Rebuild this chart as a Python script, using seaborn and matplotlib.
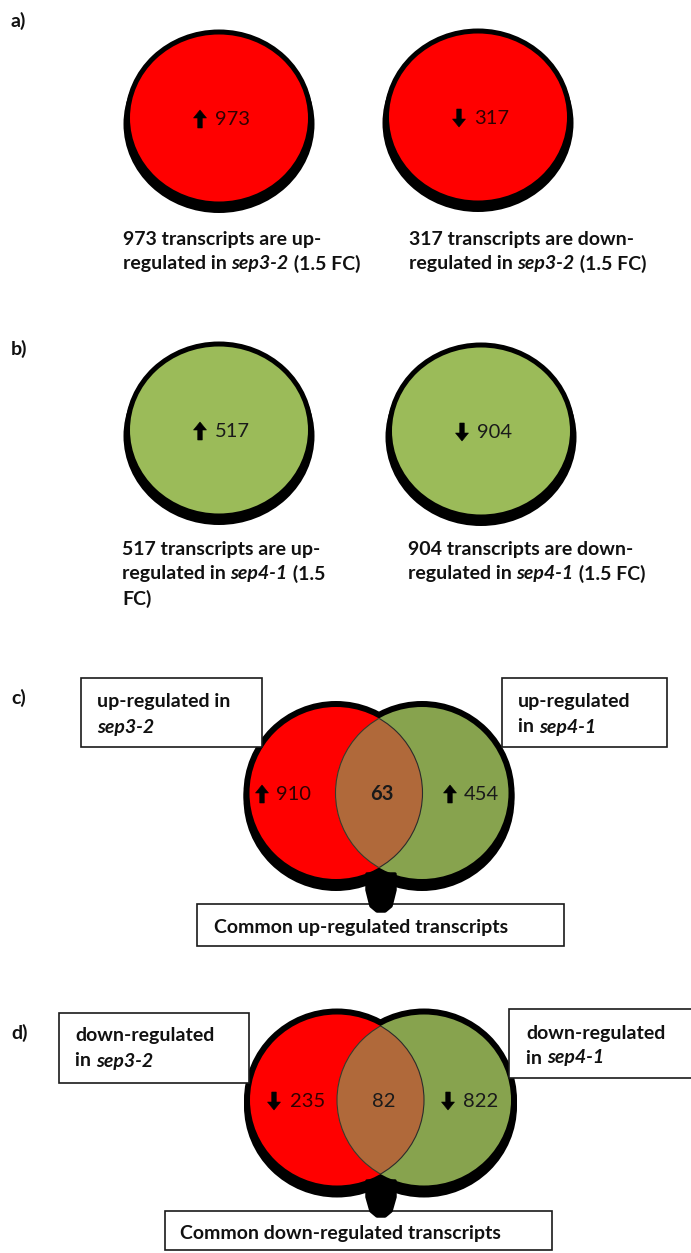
import matplotlib
matplotlib.use('Agg')
import matplotlib.pyplot as plt
import seaborn as sns
from matplotlib.patches import Ellipse, Rectangle, Polygon, FancyArrow

sns.set_theme(style='white')
plt.rcParams['font.family'] = ['Lato', 'DejaVu Sans']

# ---- data ----
panel_labels = ['a)', 'b)', 'c)', 'd)']
single_counts = [973, 317, 517, 904]
single_dirs = ['up', 'down', 'up', 'down']
venn_up = [910, 63, 454]
venn_down = [235, 82, 822]

captions = [
    [[('973 transcripts are up-', 'b')],
     [('regulated in ', 'b'), ('sep3-2', 'bi'), (' (1.5 FC)', 'b')]],
    [[('317 transcripts are down-', 'b')],
     [('regulated in ', 'b'), ('sep3-2', 'bi'), (' (1.5 FC)', 'b')]],
    [[('517 transcripts are up-', 'b')],
     [('regulated in ', 'b'), ('sep4-1', 'bi'), (' (1.5', 'b')],
     [('FC)', 'b')]],
    [[('904 transcripts are down-', 'b')],
     [('regulated in ', 'b'), ('sep4-1', 'bi'), (' (1.5 FC)', 'b')]],
]
venn_boxes_up = [[[('up-regulated in', 'b')], [('sep3-2', 'bi')]],
                 [[('up-regulated', 'b')], [('in ', 'b'), ('sep4-1', 'bi')]]]
venn_boxes_down = [[[('down-regulated', 'b')], [('in ', 'b'), ('sep3-2', 'bi')]],
                   [[('down-regulated', 'b')], [('in ', 'b'), ('sep4-1', 'bi')]]]
common_up = 'Common up-regulated transcripts'
common_down = 'Common down-regulated transcripts'

RED = '#FF0000'
GREEN = '#9BBB59'
VGREEN = '#87A34E'
LENS = '#B0693A'
FS = 14
NFS = 14.5

fig = plt.figure(figsize=(6.91, 12.53), dpi=100)
ax = fig.add_axes([0, 0, 1, 1])
ax.set_xlim(0, 691)
ax.set_ylim(1253, 0)
ax.axis('off')
renderer = fig.canvas.get_renderer()

STY = {'b': dict(fontweight='bold'), 'bi': dict(fontweight='bold', fontstyle='italic'),
       'r': dict(fontweight='normal')}


def advance(s, sty, size):
    t = ax.text(0, 0, '|' + s + '|', fontsize=size, **STY[sty])
    w1 = t.get_window_extent(renderer).width
    t.set_text('||')
    w2 = t.get_window_extent(renderer).width
    t.remove()
    return w1 - w2


def draw_lines(x, y, lines, size=FS, step=25, z=6):
    for i, runs in enumerate(lines):
        xx = x
        for s, sty in runs:
            ax.text(xx, y + i * step + 6.5, s, fontsize=size, ha='left', va='baseline',
                    zorder=z, color='#111111', **STY[sty])
            xx += advance(s, sty, size)


def count_label(xa, xn, cy, value, direction, color='#222222'):
    # bold block arrow: shaft plus filled head
    if direction == 'up':
        start, dy = cy + 10, -18
    else:
        start, dy = cy - 8, 18
    ax.add_patch(FancyArrow(xa, start, 0, dy, width=4.5, head_width=13, head_length=8,
                            length_includes_head=True, fc='black', ec='black', lw=0.4, zorder=7))
    ax.text(xn, cy + 7, str(value), fontsize=NFS, ha='left', va='baseline',
            color=color, zorder=7)


def single_circle(cx, cy, fc, value, direction, numcolor):
    w, h = 183, 172
    ax.add_patch(Ellipse((cx, cy + 6), w + 8, h + 6, fc='black', ec='none', zorder=1))
    ax.add_patch(Ellipse((cx, cy), w, h, fc=fc, ec='black', lw=3.6, zorder=2))
    count_label(cx - 19, cx - 4, cy, value, direction, numcolor)


def venn(cl, cr, cy, w, h, counts, direction, bold_mid, xs):
    for cx in (cl, cr):
        ax.add_patch(Ellipse((cx, cy + 6), w + 12, h + 12, fc='black', ec='none', zorder=1))
        ax.add_patch(Ellipse((cx, cy), w + 12, h + 12, fc='black', ec='none', zorder=1))
    ax.add_patch(Ellipse((cl, cy), w, h, fc=RED, ec='none', zorder=2))
    ax.add_patch(Ellipse((cr, cy), w, h, fc=VGREEN, ec='none', zorder=2))
    lens = Ellipse((cl, cy), w, h, fc=LENS, ec='#2b2b2b', lw=0.8, zorder=3)
    ax.add_patch(lens)
    lens.set_clip_path(Ellipse((cr, cy), w, h, transform=ax.transData))
    arc = Ellipse((cr, cy), w, h, fc='none', ec='#3a3a2a', lw=0.8, zorder=3)
    ax.add_patch(arc)
    arc.set_clip_path(Ellipse((cl, cy), w, h, transform=ax.transData))
    mid = (cl + cr) / 2
    count_label(xs[0], xs[1], cy, counts[0], direction, '#300000')
    ax.text(mid + 3, cy + 7, str(counts[1]), fontsize=NFS, ha='center', va='baseline',
            fontweight='bold' if bold_mid else 'normal', color='#1a1a1a', zorder=7)
    count_label(xs[2], xs[3], cy, counts[2], direction, '#1a1a1a')


def box(x0, y0, x1, y1):
    ax.add_patch(Rectangle((x0, y0), x1 - x0, y1 - y0, fc='white', ec='#1a1a1a', lw=1.2, zorder=5))


def blob(cx, ytop, ybot):
    pts = [(cx - 14, ytop), (cx + 14, ytop), (cx + 14, ytop + 16), (cx + 10, ybot - 5),
           (cx + 4, ybot), (cx - 4, ybot), (cx - 10, ybot - 5), (cx - 14, ytop + 16)]
    ax.add_patch(Polygon(pts, closed=True, fc='black', ec='black', lw=2.5, joinstyle='round', zorder=6))


# panel labels
for lab, y in zip(panel_labels, [20, 348, 697, 1032]):
    ax.text(11, y + 7, lab, fontsize=FS, fontweight='bold', ha='left', va='baseline', color='#111111')

# a) and b)
single_pos = [(219, 118), (478, 117), (219, 430), (481, 431)]
single_fc = [RED, RED, GREEN, GREEN]
num_colors = ['#300000', '#300000', '#1a1a1a', '#1a1a1a']
for (cx, cy), fc, v, d, nc in zip(single_pos, single_fc, single_counts, single_dirs, num_colors):
    single_circle(cx, cy, fc, v, d, nc)

caption_pos = [(123, 238), (409, 238), (122, 548), (408, 548)]
for (x, y), cap in zip(caption_pos, captions):
    draw_lines(x, y, cap)

# c)
venn(336, 422, 793, 173, 172, venn_up, 'up', True, (262, 276, 450, 464))
box(81, 678, 262, 747)
draw_lines(97, 701, venn_boxes_up[0], step=26)
box(502, 678, 667, 747)
draw_lines(518, 700, venn_boxes_up[1], step=26)
box(197, 904, 564, 946)
draw_lines(214, 927, [[(common_up, 'b')]])
blob(381, 874, 911)

# d)
venn(337, 424, 1100, 174, 171, venn_down, 'down', False, (274, 290, 448, 463))
box(59, 1013, 249, 1083)
draw_lines(75, 1035, venn_boxes_down[0], step=25)
box(509, 1009, 700, 1078)
draw_lines(526, 1032, venn_boxes_down[1], step=25)
box(165, 1211, 552, 1250)
draw_lines(180, 1233, [[(common_down, 'b')]])
blob(381, 1181, 1216)

fig.savefig('out.png', dpi=100)
